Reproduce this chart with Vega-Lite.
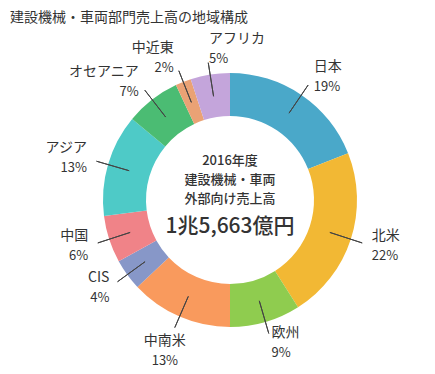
{
  "$schema": "https://vega.github.io/schema/vega-lite/v6.json",
  "width": 410,
  "height": 320,
  "autosize": {"type": "none"},
  "padding": {"left": 25, "top": 40, "right": 0, "bottom": 14},
  "background": "white",
  "title": {
    "text": "建設機械・車両部門売上高の地域構成",
    "anchor": "start",
    "frame": "group",
    "dx": -15,
    "offset": 7,
    "fontSize": 14,
    "fontWeight": "normal",
    "color": "#333333",
    "font": "Noto Sans CJK JP"
  },
  "config": {
    "view": {"stroke": null},
    "text": {"font": "Noto Sans CJK JP", "color": "#333333"}
  },
  "layer": [
    {
      "data": {
        "values": [
          {"region": "日本", "share": 0.19, "order": 1},
          {"region": "北米", "share": 0.22, "order": 2},
          {"region": "欧州", "share": 0.09, "order": 3},
          {"region": "中南米", "share": 0.13, "order": 4},
          {"region": "CIS", "share": 0.04, "order": 5},
          {"region": "中国", "share": 0.06, "order": 6},
          {"region": "アジア", "share": 0.13, "order": 7},
          {"region": "オセアニア", "share": 0.07, "order": 8},
          {"region": "中近東", "share": 0.02, "order": 9},
          {"region": "アフリカ", "share": 0.05, "order": 10}
        ]
      },
      "transform": [
        {"stack": "share", "groupby": [], "sort": [{"field": "order", "order": "ascending"}], "as": ["s0", "s1"]},
        {"calculate": "(datum.s0 + datum.s1) / 2", "as": "mid"}
      ],
      "layer": [
        {
          "mark": {"type": "arc", "innerRadius": 84, "outerRadius": 127},
          "encoding": {
            "theta": {"field": "s0", "type": "quantitative", "scale": {"domain": [0, 1]}},
            "theta2": {"field": "s1"},
            "color": {
              "field": "region",
              "type": "nominal",
              "legend": null,
              "scale": {
                "domain": ["日本", "北米", "欧州", "中南米", "CIS", "中国", "アジア", "オセアニア", "中近東", "アフリカ"],
                "range": ["#4AA8C9", "#F2B834", "#8FCC4F", "#F99A5D", "#8797C8", "#F08388", "#4ECAC7", "#4BBC73", "#EAA275", "#C4A5DB"]
              }
            }
          }
        },
        {
          "mark": {"type": "arc", "innerRadius": 105, "outerRadius": 139, "stroke": "#444444", "strokeWidth": 1, "fill": null},
          "encoding": {
            "theta": {"field": "mid", "type": "quantitative", "scale": {"domain": [0, 1]}},
            "theta2": {"field": "mid"}
          }
        },
        {
          "transform": [{"filter": {"field": "region", "oneOf": ["CIS", "中国", "アジア", "オセアニア"]}}],
          "layer": [
            {
              "mark": {"type": "text", "radius": 149, "align": "right", "baseline": "middle", "dy": -10, "fontSize": 14},
              "encoding": {
                "theta": {"field": "mid", "type": "quantitative", "stack": null, "scale": {"domain": [0, 1]}},
                "text": {"field": "region"}
              }
            },
            {
              "mark": {"type": "text", "radius": 149, "align": "right", "baseline": "middle", "dy": 10, "fontSize": 13},
              "encoding": {
                "theta": {"field": "mid", "type": "quantitative", "stack": null, "scale": {"domain": [0, 1]}},
                "text": {"field": "share", "type": "quantitative", "format": ".0%"}
              }
            }
          ]
        },
        {
          "transform": [{"filter": {"field": "region", "oneOf": ["中近東"]}}],
          "layer": [
            {
              "mark": {"type": "text", "radius": 153, "align": "right", "baseline": "middle", "dy": -10, "fontSize": 14},
              "encoding": {
                "theta": {"field": "mid", "type": "quantitative", "stack": null, "scale": {"domain": [0, 1]}},
                "text": {"field": "region"}
              }
            },
            {
              "mark": {"type": "text", "radius": 153, "align": "right", "baseline": "middle", "dy": 10, "fontSize": 13},
              "encoding": {
                "theta": {"field": "mid", "type": "quantitative", "stack": null, "scale": {"domain": [0, 1]}},
                "text": {"field": "share", "type": "quantitative", "format": ".0%"}
              }
            }
          ]
        },
        {
          "transform": [{"filter": {"field": "region", "oneOf": ["日本", "北米", "欧州"]}}],
          "layer": [
            {
              "mark": {"type": "text", "radius": 149, "align": "left", "baseline": "middle", "dy": -10, "fontSize": 14},
              "encoding": {
                "theta": {"field": "mid", "type": "quantitative", "stack": null, "scale": {"domain": [0, 1]}},
                "text": {"field": "region"}
              }
            },
            {
              "mark": {"type": "text", "radius": 149, "align": "left", "baseline": "middle", "dy": 10, "fontSize": 13},
              "encoding": {
                "theta": {"field": "mid", "type": "quantitative", "stack": null, "scale": {"domain": [0, 1]}},
                "text": {"field": "share", "type": "quantitative", "format": ".0%"}
              }
            }
          ]
        },
        {
          "transform": [{"filter": {"field": "region", "oneOf": ["アフリカ"]}}],
          "layer": [
            {
              "mark": {"type": "text", "radius": 153, "align": "left", "baseline": "middle", "dx": 3, "dy": -10, "fontSize": 14},
              "encoding": {
                "theta": {"field": "mid", "type": "quantitative", "stack": null, "scale": {"domain": [0, 1]}},
                "text": {"field": "region"}
              }
            },
            {
              "mark": {"type": "text", "radius": 153, "align": "left", "baseline": "middle", "dx": 3, "dy": 10, "fontSize": 13},
              "encoding": {
                "theta": {"field": "mid", "type": "quantitative", "stack": null, "scale": {"domain": [0, 1]}},
                "text": {"field": "share", "type": "quantitative", "format": ".0%"}
              }
            }
          ]
        },
        {
          "transform": [{"filter": {"field": "region", "oneOf": ["中南米"]}}],
          "layer": [
            {
              "mark": {"type": "text", "radius": 164, "align": "center", "baseline": "middle", "dy": -10, "fontSize": 14},
              "encoding": {
                "theta": {"field": "mid", "type": "quantitative", "stack": null, "scale": {"domain": [0, 1]}},
                "text": {"field": "region"}
              }
            },
            {
              "mark": {"type": "text", "radius": 164, "align": "center", "baseline": "middle", "dy": 10, "fontSize": 13},
              "encoding": {
                "theta": {"field": "mid", "type": "quantitative", "stack": null, "scale": {"domain": [0, 1]}},
                "text": {"field": "share", "type": "quantitative", "format": ".0%"}
              }
            }
          ]
        }
      ]
    },
    {
      "data": {"values": [{"caption": "2016年度"}]},
      "mark": {
        "type": "text",
        "text": ["2016年度", "建設機械・車両", "外部向け売上高"],
        "lineHeight": 19,
        "fontSize": 13,
        "fontWeight": 500,
        "align": "center",
        "baseline": "middle",
        "dy": -39
      }
    },
    {
      "data": {"values": [{"total": "1兆5,663億円"}]},
      "mark": {"type": "text", "fontSize": 21, "fontWeight": 500, "align": "center", "baseline": "middle", "dy": 27},
      "encoding": {"text": {"field": "total"}}
    }
  ]
}
